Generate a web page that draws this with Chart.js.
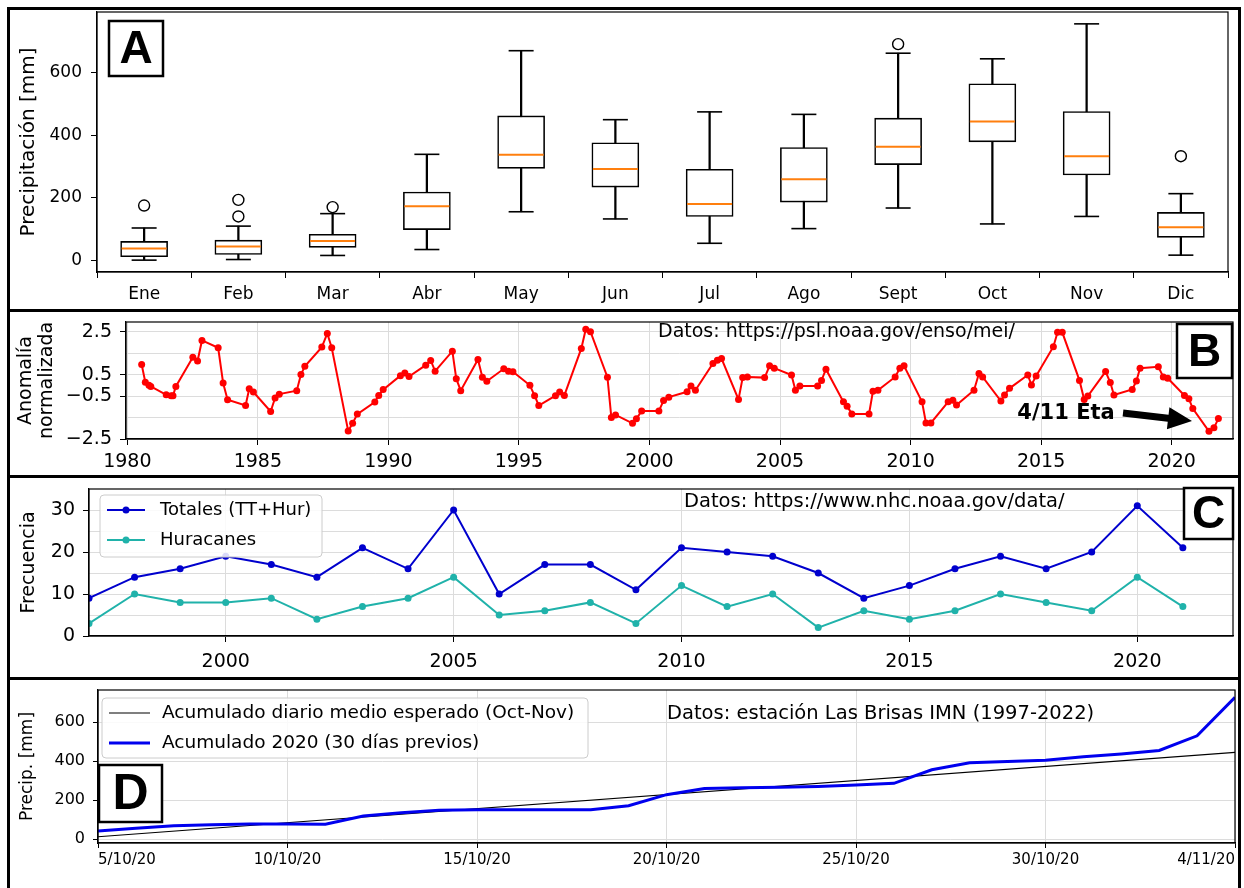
<!DOCTYPE html>
<html>
<head>
<meta charset="utf-8">
<script src="https://cdn.jsdelivr.net/npm/chart.js@4.4.1/dist/chart.umd.min.js"></script>
<style>
  html, body { margin: 0; padding: 0; background: #fff; }
  #page { position: relative; width: 1244px; height: 888px; overflow: hidden; background: #fff; }
  .panel { position: absolute; left: 0; width: 1244px; }
  .frame { position: absolute; box-sizing: border-box; border: 3px solid #000; pointer-events: none; }
</style>
</head>
<body>
<div id="page">
  <div class="panel" style="top:0;height:311px"><canvas id="chart-a"></canvas></div>
  <div class="panel" style="top:311px;height:166px"><canvas id="chart-b"></canvas></div>
  <div class="panel" style="top:477px;height:202px"><canvas id="chart-c"></canvas></div>
  <div class="panel" style="top:679px;height:209px"><canvas id="chart-d"></canvas></div>
  <div class="frame" style="left:7px;top:7px;width:1234px;height:305px"></div>
  <div class="frame" style="left:7px;top:309px;width:1234px;height:169px"></div>
  <div class="frame" style="left:7px;top:475px;width:1234px;height:205px"></div>
  <div class="frame" style="left:7px;top:677px;width:1234px;height:230px"></div>
</div>
<script>
/* ---- Panel A: monthly precipitation boxplots ---- */
var months = ['Ene', 'Feb', 'Mar', 'Abr', 'May', 'Jun', 'Jul', 'Ago', 'Sept', 'Oct', 'Nov', 'Dic'];
var boxLow  = [0, 2, 15, 34, 155, 132, 54, 101, 167, 116, 140, 16];
var boxQ1   = [11, 18, 41, 98, 294, 234, 140, 186, 306, 379, 273, 73];
var boxMed  = [37, 44, 61, 173, 338, 292, 180, 259, 363, 444, 333, 105];
var boxQ3   = [60, 64, 83, 218, 462, 376, 291, 361, 455, 565, 476, 153];
var boxHigh = [103, 109, 149, 339, 671, 450, 475, 467, 663, 645, 757, 213];
var outlierMonths = ['Ene', 'Feb', 'Feb', 'Mar', 'Sept', 'Dic'];
var outlierValues = [175, 140, 193, 170, 692, 333];
var aYTicks = [0, 200, 400, 600];

/* ---- Panel B: MEI index ---- */
var meiYears = [
  1980.55, 1980.69, 1980.83, 1980.9, 1981.49, 1981.68, 1981.75, 1981.86,
  1982.51, 1982.69, 1982.86, 1983.48, 1983.67, 1983.84, 1984.53, 1984.67, 1984.83,
  1985.49, 1985.66, 1985.82, 1986.49, 1986.65, 1986.8, 1987.45, 1987.66, 1987.83,
  1988.46, 1988.63, 1988.81, 1989.48, 1989.63, 1989.8, 1990.46, 1990.63, 1990.79,
  1991.43, 1991.62, 1991.79, 1992.45, 1992.6, 1992.77, 1993.43, 1993.6, 1993.77,
  1994.42, 1994.6, 1994.77, 1995.42, 1995.6, 1995.76, 1996.4, 1996.56, 1996.74,
  1997.39, 1997.56, 1997.74, 1998.39, 1998.54, 1998.7, 1999.35, 1999.5, 1999.7,
  2000.36, 2000.54, 2000.74, 2001.44, 2001.59, 2001.76, 2002.43, 2002.6, 2002.76,
  2003.41, 2003.57, 2003.75, 2004.41, 2004.6, 2004.78, 2005.44, 2005.59, 2005.76,
  2006.44, 2006.59, 2006.76, 2007.43, 2007.57, 2007.75, 2008.41, 2008.56, 2008.75,
  2009.41, 2009.59, 2009.75, 2010.44, 2010.59, 2010.78, 2011.44, 2011.62, 2011.76,
  2012.43, 2012.62, 2012.76, 2013.46, 2013.6, 2013.79, 2014.49, 2014.63, 2014.81,
  2015.47, 2015.63, 2015.81, 2016.47, 2016.65, 2016.79, 2017.47, 2017.65, 2017.79,
  2018.49, 2018.65, 2018.79, 2019.49, 2019.68, 2019.85, 2020.49, 2020.66, 2020.81,
  2021.43, 2021.62, 2021.79
];
var meiValues = [
  0.97, 0.14, 0.0, -0.05, -0.44, -0.48, -0.48, -0.05,
  1.31, 1.13, 2.09, 1.75, 0.11, -0.67, -0.94, -0.16, -0.31,
  -1.22, -0.59, -0.41, -0.25, 0.5, 0.89, 1.78, 2.42, 1.75,
  -2.13, -1.77, -1.34, -0.78, -0.47, -0.2, 0.45, 0.58, 0.41,
  0.94, 1.16, 0.66, 1.59, 0.31, -0.25, 1.2, 0.38, 0.19,
  0.77, 0.66, 0.63, 0.0, -0.48, -0.94, -0.48, -0.31, -0.47,
  1.72, 2.61, 2.5, 0.38, -1.5, -1.38, -1.77, -1.56, -1.19,
  -1.19, -0.71, -0.55, -0.3, -0.03, -0.23, 1.02, 1.17, 1.25,
  -0.66, 0.36, 0.39, 0.36, 0.91, 0.8, 0.48, -0.23, -0.03,
  -0.03, 0.23, 0.75, -0.77, -0.97, -1.33, -1.33, -0.27, -0.23,
  0.39, 0.8, 0.91, -0.77, -1.75, -1.75, -0.77, -0.7, -0.92,
  -0.23, 0.55, 0.39, -0.73, -0.45, -0.14, 0.48, 0.02, 0.44,
  1.8, 2.47, 2.47, 0.23, -0.66, -0.5, 0.64, 0.13, -0.45,
  -0.19, 0.2, 0.8, 0.86, 0.39, 0.33, -0.47, -0.63, -1.08,
  -2.14, -1.98, -1.55
];
var bXTicks = [1980, 1985, 1990, 1995, 2000, 2005, 2010, 2015, 2020];
var bXLabels = ['1980', '1985', '1990', '1995', '2000', '2005', '2010', '2015', '2020'];
var bYTicks = [-2.5, -1.5, -0.5, 0.5, 1.5, 2.5];
var bYLabels = ['\u22122.5', '', '\u22120.5', '0.5', '', '2.5'];

/* ---- Panel C: Atlantic storm counts ---- */
var cYears = [1997, 1998, 1999, 2000, 2001, 2002, 2003, 2004, 2005, 2006, 2007, 2008, 2009,
  2010, 2011, 2012, 2013, 2014, 2015, 2016, 2017, 2018, 2019, 2020, 2021];
var cTotals = [9, 14, 16, 19, 17, 14, 21, 16, 30, 10, 17, 17, 11, 21, 20, 19, 15, 9, 12, 16, 19, 16, 20, 31, 21];
var cHurricanes = [3, 10, 8, 8, 9, 4, 7, 9, 14, 5, 6, 8, 3, 12, 7, 10, 2, 6, 4, 6, 10, 8, 6, 14, 7];
var cXTicks = [2000, 2005, 2010, 2015, 2020];
var cXLabels = ['2000', '2005', '2010', '2015', '2020'];
var cYTicks = [0, 5, 10, 15, 20, 25, 30];
var cYLabels = ['0', '', '10', '', '20', '', '30'];

/* ---- Panel D: accumulated precipitation Oct-Nov 2020 ---- */
var dDays = [0, 1, 2, 3, 4, 5, 6, 7, 8, 9, 10, 11, 12, 13, 14, 15, 16, 17, 18, 19, 20,
  21, 22, 23, 24, 25, 26, 27, 28, 29, 30];
var dAccum2020 = [42, 56, 68, 74, 77, 78, 76, 118, 135, 148, 150, 150, 150, 150, 171, 228, 259,
  263, 266, 270, 277, 286, 356, 392, 398, 405, 422, 437, 455, 530, 727];
var dExpectedDays = [0, 30];
var dExpected = [12, 445];
var dXTicks = [0, 5, 10, 15, 20, 25, 30];
var dXLabels = ['5/10/20', '10/10/20', '15/10/20', '20/10/20', '25/10/20', '30/10/20', '4/11/20'];
var dYTicks = [0, 200, 400, 600];

(function () {
  Chart.defaults.font.family = "'DejaVu Sans', 'Noto Sans', sans-serif";
  Chart.defaults.color = '#000';
  Chart.defaults.animation = false;

  var GRID = '#dcdcdc';

  function pairs(xs, ys) {
    return xs.map(function (x, i) { return { x: x, y: ys[i] }; });
  }
  function fixedTicks(values) {
    return function (scale) {
      scale.ticks = values.map(function (v) { return { value: v }; });
    };
  }
  function labelsFrom(list) {
    return function (value, index) { return list[index]; };
  }
  function tickColorFrom(list) {
    return function (ctx) { return list[ctx.index] ? '#000' : 'rgba(0,0,0,0)'; };
  }
  /* pin axis sizes so the plot areas land where the figure has them */
  function fitX(h) {
    return function (s) { s.height = h; s.paddingLeft = 0; s.paddingRight = 0; };
  }
  function fitY(w) {
    return function (s) { s.width = w; s.paddingTop = 0; s.paddingBottom = 0; };
  }

  /* ---- drawing helpers for the extras ---- */
  function drawSpines(chart) {
    var a = chart.chartArea, ctx = chart.ctx;
    ctx.save();
    ctx.strokeStyle = '#000';
    ctx.lineWidth = 1.2;
    ctx.strokeRect(a.left, a.top, a.right - a.left, a.bottom - a.top);
    ctx.restore();
  }
  function drawTag(ctx, letter, x, y, w, h, size) {
    ctx.save();
    ctx.fillStyle = '#fff';
    ctx.fillRect(x, y, w, h);
    ctx.strokeStyle = '#000';
    ctx.lineWidth = 2.5;
    ctx.strokeRect(x, y, w, h);
    ctx.fillStyle = '#000';
    ctx.font = 'bold ' + size + "px 'Liberation Sans', Arial, sans-serif";
    ctx.textAlign = 'center';
    ctx.textBaseline = 'middle';
    ctx.fillText(letter, x + w / 2, y + h / 2 + 2);
    ctx.restore();
  }
  function drawNote(ctx, text, x, y, font, align) {
    ctx.save();
    ctx.fillStyle = '#000';
    ctx.font = font;
    ctx.textAlign = align || 'left';
    ctx.textBaseline = 'middle';
    ctx.fillText(text, x, y);
    ctx.restore();
  }
  function drawLegend(chart, box, rows) {
    var ctx = chart.ctx;
    ctx.save();
    ctx.beginPath();
    ctx.roundRect(box.x, box.y, box.w, box.h, 4);
    ctx.fillStyle = 'rgba(255,255,255,0.85)';
    ctx.fill();
    ctx.strokeStyle = '#cccccc';
    ctx.lineWidth = 1;
    ctx.stroke();
    rows.forEach(function (r) {
      var ds = chart.data.datasets[r.dataset];
      ctx.strokeStyle = ds.borderColor;
      ctx.lineWidth = ds.borderWidth;
      ctx.beginPath();
      ctx.moveTo(box.x0, r.y);
      ctx.lineTo(box.x1, r.y);
      ctx.stroke();
      if (ds.pointRadius) {
        ctx.fillStyle = ds.borderColor;
        ctx.beginPath();
        ctx.arc((box.x0 + box.x1) / 2, r.y, ds.pointRadius, 0, Math.PI * 2);
        ctx.fill();
      }
      ctx.fillStyle = '#000';
      ctx.font = box.font;
      ctx.textAlign = 'left';
      ctx.textBaseline = 'middle';
      ctx.fillText(ds.label, box.tx, r.y);
    });
    ctx.restore();
  }
  function drawArrow(ctx, x0, y0, x1, y1, shaft, headLen, headW) {
    var ang = Math.atan2(y1 - y0, x1 - x0);
    var len = Math.hypot(x1 - x0, y1 - y0);
    ctx.save();
    ctx.translate(x0, y0);
    ctx.rotate(ang);
    ctx.fillStyle = '#000';
    ctx.beginPath();
    ctx.moveTo(0, -shaft / 2);
    ctx.lineTo(len - headLen, -shaft / 2);
    ctx.lineTo(len - headLen, -headW / 2);
    ctx.lineTo(len, 0);
    ctx.lineTo(len - headLen, headW / 2);
    ctx.lineTo(len - headLen, shaft / 2);
    ctx.lineTo(0, shaft / 2);
    ctx.closePath();
    ctx.fill();
    ctx.restore();
  }

  /* ---- Panel A ---- */
  function initBoxChart() {
    var ctx = document.getElementById('chart-a');
    var tickGrid = { display: true, drawOnChartArea: false, tickLength: 6, tickColor: '#000' };
    new Chart(ctx, {
      type: 'bar',
      data: {
        labels: months,
        datasets: [
          {
            type: 'bar',
            data: months.map(function (m, i) { return [boxLow[i], boxHigh[i]]; }),
            backgroundColor: '#000',
            barThickness: 1.6,
            grouped: false,
            order: 3
          },
          {
            type: 'bar',
            data: months.map(function (m, i) { return [boxQ1[i], boxQ3[i]]; }),
            backgroundColor: '#fff',
            borderColor: '#000',
            borderWidth: 1.6,
            borderSkipped: false,
            barThickness: 47,
            grouped: false,
            order: 2
          },
          {
            type: 'line', data: boxLow, showLine: false, order: 1,
            pointStyle: 'line', pointRadius: 12.5, pointBorderWidth: 1.6, pointBorderColor: '#000'
          },
          {
            type: 'line', data: boxHigh, showLine: false, order: 1,
            pointStyle: 'line', pointRadius: 12.5, pointBorderWidth: 1.6, pointBorderColor: '#000'
          },
          {
            type: 'line', data: boxMed, showLine: false, order: 0,
            pointStyle: 'line', pointRadius: 22.5, pointBorderWidth: 2, pointBorderColor: '#ff7f0e'
          },
          {
            type: 'line', data: pairs(outlierMonths, outlierValues), showLine: false, order: 0,
            pointStyle: 'circle', pointRadius: 5.5, pointBorderWidth: 1.4,
            pointBorderColor: '#000', pointBackgroundColor: 'rgba(0,0,0,0)'
          }
        ]
      },
      options: {
        responsive: true,
        maintainAspectRatio: false,
        events: [],
        layout: { autoPadding: false, padding: { left: 13, top: 12, right: 16, bottom: 0 } },
        plugins: { legend: { display: false }, tooltip: { enabled: false } },
        scales: {
          x: {
            offset: true,
            grid: tickGrid,
            border: { color: '#000', width: 1.2 },
            ticks: { font: { size: 17 }, padding: 6, color: '#000', autoSkip: false, maxRotation: 0 },
            afterFit: fitX(39)
          },
          y: {
            min: -38,
            max: 795,
            afterBuildTicks: fixedTicks(aYTicks),
            grid: tickGrid,
            border: { color: '#000', width: 1.2 },
            ticks: { font: { size: 17 }, padding: 9, color: '#000', autoSkip: false },
            title: { display: true, text: 'Precipitación [mm]', font: { size: 20 }, padding: { top: 4, bottom: 0 } },
            afterFit: fitY(84)
          }
        }
      },
      plugins: [{
        id: 'decorA',
        afterDraw: function (chart) {
          drawSpines(chart);
          drawTag(chart.ctx, 'A', 109, 21, 54, 55, 46);
        }
      }]
    });
  }

  /* ---- Panel B ---- */
  function initMeiChart() {
    var ctx = document.getElementById('chart-b');
    new Chart(ctx, {
      type: 'line',
      data: {
        datasets: [{
          label: 'MEI',
          data: pairs(meiYears, meiValues),
          borderColor: '#ff0000',
          borderWidth: 2,
          pointRadius: 3.5,
          pointBackgroundColor: '#ff0000',
          pointBorderWidth: 0,
          tension: 0
        }]
      },
      options: {
        responsive: true,
        maintainAspectRatio: false,
        events: [],
        layout: { autoPadding: false, padding: { left: 12, top: 11, right: 11, bottom: 0 } },
        plugins: { legend: { display: false }, tooltip: { enabled: false } },
        scales: {
          x: {
            type: 'linear',
            min: 1979.95,
            max: 2022.35,
            afterBuildTicks: fixedTicks(bXTicks),
            grid: { color: GRID, tickLength: 6, tickColor: '#000' },
            border: { color: '#000', width: 1.2 },
            ticks: { font: { size: 19 }, padding: 6, color: '#000', autoSkip: false, maxRotation: 0, callback: labelsFrom(bXLabels) },
            afterFit: fitX(38)
          },
          y: {
            min: -2.5,
            max: 2.95,
            afterBuildTicks: fixedTicks(bYTicks),
            grid: { color: GRID, tickLength: 6, tickColor: tickColorFrom(bYLabels) },
            border: { color: '#000', width: 1.2 },
            ticks: { font: { size: 19 }, padding: 8, color: '#000', autoSkip: false, callback: labelsFrom(bYLabels) },
            title: {
              display: true,
              text: ['Anomalía', 'normalizada'],
              font: { size: 19, lineHeight: 1.1 },
              padding: { top: 4, bottom: 0 }
            },
            afterFit: fitY(114)
          }
        }
      },
      plugins: [{
        id: 'decorB',
        afterDraw: function (chart) {
          var c = chart.ctx;
          drawSpines(chart);
          drawNote(c, 'Datos: https://psl.noaa.gov/enso/mei/', 658, 21, "19px 'DejaVu Sans', sans-serif");
          drawTag(c, 'B', 1177, 13, 55, 54, 46);
          drawNote(c, '4/11 Eta', 1066, 103, "bold 21px 'DejaVu Sans', sans-serif", 'center');
          drawArrow(c, 1123, 102, 1192, 110, 7, 24, 22);
        }
      }]
    });
  }

  /* ---- Panel C ---- */
  function initStormChart() {
    var ctx = document.getElementById('chart-c');
    new Chart(ctx, {
      type: 'line',
      data: {
        datasets: [
          {
            label: 'Totales (TT+Hur)',
            data: pairs(cYears, cTotals),
            borderColor: '#0000cd',
            backgroundColor: '#0000cd',
            borderWidth: 2,
            pointRadius: 3.5,
            pointBackgroundColor: '#0000cd',
            pointBorderWidth: 0
          },
          {
            label: 'Huracanes',
            data: pairs(cYears, cHurricanes),
            borderColor: '#20b2aa',
            backgroundColor: '#20b2aa',
            borderWidth: 2,
            pointRadius: 3.5,
            pointBackgroundColor: '#20b2aa',
            pointBorderWidth: 0
          }
        ]
      },
      options: {
        responsive: true,
        maintainAspectRatio: false,
        events: [],
        layout: { autoPadding: false, padding: { left: 14, top: 12, right: 11, bottom: 0 } },
        plugins: { legend: { display: false }, tooltip: { enabled: false } },
        scales: {
          x: {
            type: 'linear',
            min: 1997,
            max: 2022.1,
            afterBuildTicks: fixedTicks(cXTicks),
            grid: { color: GRID, tickLength: 6, tickColor: '#000' },
            border: { color: '#000', width: 1.2 },
            ticks: { font: { size: 19 }, padding: 9, color: '#000', autoSkip: false, maxRotation: 0, callback: labelsFrom(cXLabels) },
            afterFit: fitX(43)
          },
          y: {
            min: 0,
            max: 35,
            afterBuildTicks: fixedTicks(cYTicks),
            grid: { color: GRID, tickLength: 6, tickColor: tickColorFrom(cYLabels) },
            border: { color: '#000', width: 1.2 },
            ticks: { font: { size: 19 }, padding: 8, color: '#000', autoSkip: false, callback: labelsFrom(cYLabels) },
            title: { display: true, text: 'Frecuencia', font: { size: 19 }, padding: { top: 4, bottom: 0 } },
            afterFit: fitY(75)
          }
        }
      },
      plugins: [{
        id: 'decorC',
        afterDraw: function (chart) {
          var c = chart.ctx;
          drawSpines(chart);
          drawLegend(chart,
            { x: 100, y: 18, w: 222, h: 62, x0: 107, x1: 145, tx: 160, font: "18px 'DejaVu Sans', sans-serif" },
            [{ dataset: 0, y: 33 }, { dataset: 1, y: 63 }]);
          drawNote(c, 'Datos: https://www.nhc.noaa.gov/data/', 684, 25, "19.5px 'DejaVu Sans', sans-serif");
          drawTag(c, 'C', 1184, 11, 49, 51, 46);
        }
      }]
    });
  }

  /* ---- Panel D ---- */
  function initAccumChart() {
    var ctx = document.getElementById('chart-d');
    new Chart(ctx, {
      type: 'line',
      data: {
        datasets: [
          {
            label: 'Acumulado diario medio esperado (Oct-Nov)',
            data: pairs(dExpectedDays, dExpected),
            borderColor: '#000',
            borderWidth: 1.2,
            pointRadius: 0,
            order: 1
          },
          {
            label: 'Acumulado 2020 (30 días previos)',
            data: pairs(dDays, dAccum2020),
            borderColor: '#0000ee',
            borderWidth: 3,
            pointRadius: 0,
            order: 0
          }
        ]
      },
      options: {
        responsive: true,
        maintainAspectRatio: false,
        events: [],
        layout: { autoPadding: false, padding: { left: 13, top: 11, right: 9, bottom: 0 } },
        plugins: { legend: { display: false }, tooltip: { enabled: false } },
        scales: {
          x: {
            type: 'linear',
            min: 0,
            max: 30,
            afterBuildTicks: fixedTicks(dXTicks),
            grid: { color: GRID, tickLength: 5, tickColor: '#000' },
            border: { color: '#000', width: 1.2 },
            ticks: { font: { size: 15 }, padding: 3, color: '#000', autoSkip: false, maxRotation: 0, align: 'inner', callback: labelsFrom(dXLabels) },
            afterFit: fitX(45)
          },
          y: {
            min: -20,
            max: 765,
            afterBuildTicks: fixedTicks(dYTicks),
            grid: { color: GRID, tickLength: 5, tickColor: '#000' },
            border: { color: '#000', width: 1.2 },
            ticks: { font: { size: 16 }, padding: 8, color: '#000', autoSkip: false },
            title: { display: true, text: 'Precip. [mm]', font: { size: 17 }, padding: { top: 4, bottom: 0 } },
            afterFit: fitY(85)
          }
        }
      },
      plugins: [{
        id: 'decorD',
        afterDraw: function (chart) {
          var c = chart.ctx;
          drawSpines(chart);
          drawLegend(chart,
            { x: 102, y: 19, w: 486, h: 60, x0: 109, x1: 150, tx: 162, font: "18.5px 'DejaVu Sans', sans-serif" },
            [{ dataset: 0, y: 34 }, { dataset: 1, y: 64 }]);
          drawNote(c, 'Datos: estación Las Brisas IMN (1997-2022)', 667, 35, "19.5px 'DejaVu Sans', sans-serif");
          drawTag(c, 'D', 99, 86, 63, 57, 50);
        }
      }]
    });
  }

  initBoxChart();
  initMeiChart();
  initStormChart();
  initAccumChart();
})();
</script>
</body>
</html>
